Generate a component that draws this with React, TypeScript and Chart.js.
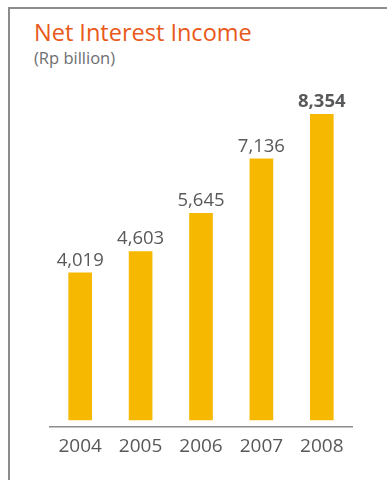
import React, { useEffect, useRef } from "react";
import { Chart, registerables } from "chart.js";

Chart.register(...registerables);

const years = ["2004", "2005", "2006", "2007", "2008"];
const netInterestIncome = [4019, 4603, 5645, 7136, 8354];
const highlightIndex = 4;

const FONT = "'Open Sans', 'Noto Sans', sans-serif";
const BAR = "#F6B800";
const GRAY_TEXT = "#58595B";
const ORANGE = "#E8591A";
const FRAME = "#8C8C8C";

const fmt = (v: number) => v.toLocaleString("en-US");

const valueLabels = {
  id: "valueLabels",
  afterDatasetsDraw(chart: any) {
    const { ctx } = chart;
    const meta = chart.getDatasetMeta(0);
    ctx.save();
    ctx.textAlign = "center";
    ctx.textBaseline = "alphabetic";
    meta.data.forEach((bar: any, i: number) => {
      const bold = i === highlightIndex;
      ctx.font = `${bold ? "bold " : ""}18.5px ${FONT}`;
      ctx.fillStyle = GRAY_TEXT;
      ctx.fillText(fmt(netInterestIncome[i]), bar.x, bar.y - 7);
    });
    ctx.restore();
  },
};

export default function App() {
  const canvasRef = useRef<HTMLCanvasElement | null>(null);

  useEffect(() => {
    if (!canvasRef.current) return;
    const chart = new Chart(canvasRef.current, {
      type: "bar",
      data: {
        labels: years,
        datasets: [
          {
            data: netInterestIncome,
            backgroundColor: BAR,
            borderWidth: 0,
            barThickness: 23,
          },
        ],
      },
      options: {
        animation: false,
        responsive: false,
        maintainAspectRatio: false,
        layout: { padding: { left: 50, right: 35, top: 54, bottom: 14 } },
        plugins: {
          legend: { display: false },
          tooltip: { enabled: false },
          title: { display: false },
        },
        scales: {
          x: {
            grid: { display: false, drawTicks: false },
            border: { display: true, color: FRAME, width: 1.5 },
            ticks: {
              color: GRAY_TEXT,
              font: { family: FONT, size: 19 },
              padding: 8,
            },
          },
          y: {
            display: false,
            min: -200,
            max: 10000,
          },
        },
      },
      plugins: [valueLabels],
    });
    return () => chart.destroy();
  }, []);

  return (
    <div
      style={{
        position: "fixed",
        left: 0,
        top: 0,
        width: 387,
        height: 480,
        background: "#fff",
        overflow: "hidden",
      }}
    >
      <div
        style={{
          position: "absolute",
          left: 8,
          top: 7,
          right: 0,
          bottom: 0,
          borderTop: `2px solid ${FRAME}`,
          borderLeft: `2px solid ${FRAME}`,
        }}
      />
      <div
        style={{
          position: "absolute",
          left: 34,
          top: 17,
          fontFamily: FONT,
          fontSize: 23.5,
          color: ORANGE,
          lineHeight: "30px",
          whiteSpace: "nowrap",
        }}
      >
        Net Interest Income
      </div>
      <div
        style={{
          position: "absolute",
          left: 34,
          top: 47,
          fontFamily: FONT,
          fontSize: 16.5,
          color: "#6D6E71",
          lineHeight: "22px",
          whiteSpace: "nowrap",
        }}
      >
        (Rp billion)
      </div>
      <canvas
        ref={canvasRef}
        width={387}
        height={480}
        style={{ position: "absolute", left: 0, top: 0, width: 387, height: 480 }}
      />
    </div>
  );
}
